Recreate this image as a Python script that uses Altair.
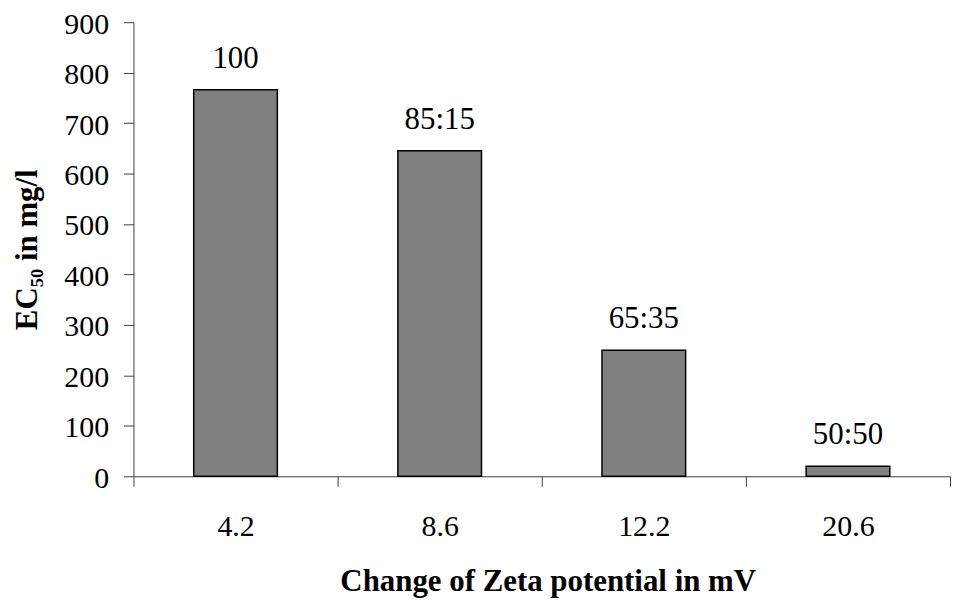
import altair as alt
import pandas as pd

zeta = ["4.2", "8.6", "12.2", "20.6"]
ec50 = [766, 645, 250, 20]
ratios = ["100", "85:15", "65:35", "50:50"]

df = pd.DataFrame({"zeta": zeta, "ec50": ec50, "ratio": ratios})

FONT = "Liberation Serif"
AX = "#404040"

x = alt.X(
    "zeta:N",
    sort=zeta,
    scale=alt.Scale(paddingInner=0, paddingOuter=0),
    axis=alt.Axis(
        title="Change of Zeta potential in mV",
        labelAngle=0,
        tickBand="extent",
        tickSize=10,
        labelPadding=49,
        labelBaseline="alphabetic",
        titleX=416,
        titleY=106,
        titleBaseline="middle",
        titleAlign="center",
    ),
)

y = alt.Y(
    "ec50:Q",
    scale=alt.Scale(domain=[0, 900], nice=False),
    axis=alt.Axis(
        title="EC₅₀ in mg/l",
        values=list(range(0, 1000, 100)),
        tickSize=10,
        labelPadding=15,
        labelBaseline="alphabetic",
        labelOffset=11,
        grid=False,
        titleX=-106,
        titleY=228,
        titleAngle=-90,
        titleBaseline="middle",
        titleAlign="center",
    ),
)

bars = alt.Chart(df).mark_bar(
    size=84, color="#808080", stroke="#000000", strokeWidth=1.5
).encode(x=x, y=y)

labels = alt.Chart(df).mark_text(
    font=FONT, fontSize=31, baseline="alphabetic", dy=-22, color="#000000"
).encode(x=x, y=y, text="ratio:N")

chart = (
    (bars + labels)
    .properties(
        width=820,
        height=456,
        autosize=alt.AutoSizeParams(type="none"),
        padding={"left": 126, "top": 13, "right": 5, "bottom": 124},
    )
    .configure_view(stroke=None)
    .configure_axis(
        labelFont=FONT,
        labelFontSize=30,
        labelColor="#000000",
        titleFont=FONT,
        titleFontSize=31,
        titleFontWeight="bold",
        titleColor="#000000",
        domainColor=AX,
        tickColor=AX,
        domainWidth=1,
        tickWidth=1,
    )
)

chart.save("out.html", embed_options={"renderer": "svg", "actions": False})
